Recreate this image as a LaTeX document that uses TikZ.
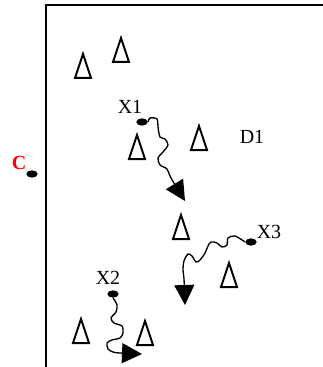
\documentclass[tikz,border=0pt]{standalone}
\usepackage{fontspec}
\setmainfont{Liberation Serif}
\usepackage{tikz}
\usetikzlibrary{arrows.meta,shapes.geometric}

\begin{document}
\begin{tikzpicture}[x=0.75pt, y=-0.75pt,
  spot/.style={ellipse, fill=black, inner sep=0pt, minimum width=8.5pt, minimum height=5.5pt},
  lbl/.style={font=\fontsize{15}{17}\selectfont},
  walk/.style={line width=1pt, -{Triangle[length=15pt, width=15pt]}},
  obst/.style={line width=1.5pt, line join=miter}]
  \useasboundingbox (0,0) rectangle (323,367);

  % region D1 (only left and top edges visible)
  \draw[line width=1.1pt] (46,367) -- (46,5) -- (323,5);
  \node[lbl] (d1) at (252,137) {D1};

  % obstacles
  \foreach \cx/\cy in {83/66, 121/50, 137/147, 199/138, 181/227, 229/275, 81/331, 145/333}
    \draw[obst] (\cx-8,\cy+12) -- (\cx+8,\cy+12) -- (\cx,\cy-12) -- cycle;

  % base point C outside the region
  \node[lbl, font=\fontsize{15}{17}\selectfont\bfseries, red] (clbl) at (19,163) {C};
  \node[spot] (c) at (32,174) {};

  % walkers and their paths
  \node[spot] (x1) at (142,122) {};
  \node[lbl] (x1lbl) at (130,107) {X1};
  \draw[walk, smooth] plot coordinates {(x1.east) (150,118) (157,119) (158,127) (160,137) (165,139) (168,145) (163,152) (158,158) (160,165) (167,169) (171,178) (185,201)};

  \node[spot] (x3) at (251,242) {};
  \node[lbl] (x3lbl) at (269,232) {X3};
  \draw[walk, smooth] plot coordinates {(x3.west) (235,236) (228,238) (227,245) (222,247) (217,243) (211,242) (208,246) (205,253) (200,260) (196,262) (192,256) (188,254) (184,261) (183,270) (184,279) (185,305)};

  \node[spot] (x2) at (113,294) {};
  \node[lbl] (x2lbl) at (108,278) {X2};
  \draw[walk, smooth] plot coordinates {(x2.south) (117,305) (116,312) (111,318) (114,323) (122,326) (123,333) (120,338) (112,340) (107,343) (108,349) (113,352) (120,353) (142,354)};
\end{tikzpicture}
\end{document}
